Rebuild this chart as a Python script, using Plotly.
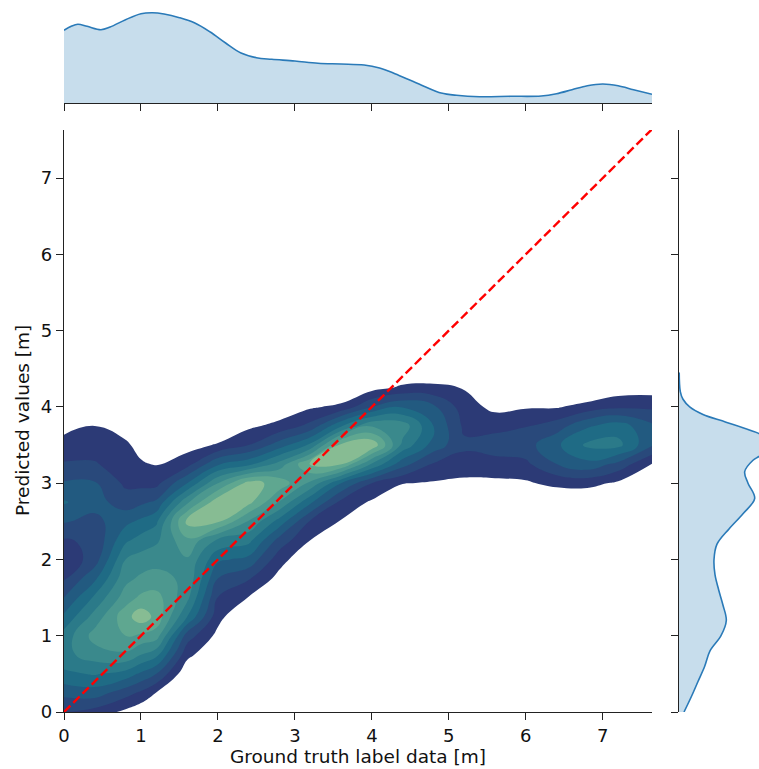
import plotly.graph_objects as go

W, H = 759, 769

# KDE levels, one list per x column (y goes up)
# values below 0 are outside the outer contour
grid_x = [0, 0.4, 0.8, 1.0, 1.2, 1.6, 2.0, 2.4, 2.8, 3.2, 3.6, 4.0, 4.4, 4.8, 5.2, 5.6, 6.0, 6.4, 6.8, 7.2, 7.64]
grid_y = [0, 0.25, 0.5, 0.75, 1, 1.25, 1.5, 1.75, 2, 2.25, 2.5, 2.75, 3, 3.25, 3.5, 3.75, 4, 4.25, 4.5]
z_columns = [
    [2.0, 3.3, 4.8, 5.7, 5.4, 4.2, 3.0, 1.9, 1.2, 1.9, 3.1, 4.1, 3.1, 2.1, 1.35, 0.7, 0.1, -0.5, -1],
    [1.6, 3.5, 5.1, 6.5, 7.4, 6.4, 5.2, 3.8, 2.5, 2.2, 2.7, 3.4, 3.1, 2.1, 1.5, 1.0, 0.35, -0.3, -1],
    [0.76, 2.4, 4.6, 6.8, 8.0, 8.6, 7.5, 6.7, 6.0, 4.8, 3.7, 2.5, 1.8, 1.4, 1.15, 0.6, 0.05, -0.5, -1],
    [0.3, 1.8, 3.8, 6.0, 7.8, 9.6, 8.2, 7.2, 6.4, 5.4, 4.2, 2.8, 1.7, 1.1, 0.7, 0.1, -0.5, -1, -1.5],
    [-0.5, 0.95, 3.0, 5.3, 7.5, 8.7, 8.4, 7.3, 6.7, 5.8, 4.8, 3.2, 1.7, 0.93, 0.3, -0.3, -0.9, -1.4, -2],
    [-2, -0.9, 0.2, 1.3, 2.5, 5.0, 6.3, 6.8, 6.9, 7.8, 9.3, 6.8, 4.0, 1.6, 0.6, -0.3, -1.2, -1.8, -2.5],
    [-2, -1.4, -0.7, 0, 0.7, 1.35, 1.97, 3.0, 4.2, 5.8, 9.2, 9.7, 7.0, 3.9, 1.1, 0.1, -0.9, -1.7, -2.5],
    [-2.5, -2.5, -2.5, -2, -1.3, -0.2, 0.95, 2.1, 3.7, 5.3, 6.9, 9.3, 9.4, 4.7, 2.0, 0.8, -0.2, -1.2, -2],
    [-2.5, -2.5, -2.5, -2.5, -1.8, -0.95, -0.15, 0.65, 1.4, 2.6, 4.6, 6.9, 8.6, 6.4, 3.5, 1.3, 0.3, -0.7, -1.7],
    [-2.5, -2.5, -2.5, -2.5, -2.5, -2.5, -1.8, -0.85, 0.1, 1.0, 1.9, 4.2, 6.8, 9.05, 5.2, 2.3, 0.85, -0.2, -1.2],
    [-2.5, -2.5, -2.5, -2.5, -2.5, -2.5, -2.5, -1.5, -0.7, 0.1, 0.93, 1.7, 4.0, 9.1, 9.3, 4.9, 1.25, -0.1, -1.3],
    [-2.5, -2.5, -2.5, -2.5, -2.5, -2.5, -2.5, -2.5, -2.5, -1.4, -0.25, 0.85, 2.0, 5.9, 9.8, 6.9, 3.0, 0.6, -0.8],
    [-2.5] * 10 + [-1.5, -0.2, 1.05, 3.4, 5.7, 6.6, 3.9, 1.2, 0],
    [-2.5] * 10 + [-1.1, -0.1, 0.9, 1.9, 3.6, 4.0, 3.2, 1.25, 0.1],
    [-2.5] * 10 + [-1.1, -0.2, 0.75, 1.6, 2.2, 1.8, 1.5, 0.95, -0.1],
    [-2.5] * 10 + [-1.1, -0.2, 0.75, 1.7, 2.4, 1.75, 0.7, -0.4, -1.5],
    [-2.5] * 10 + [-1, -0.1, 0.85, 1.8, 2.6, 1.95, 0.9, -0.2, -1.3],
    [-2.5] * 10 + [-1.4, -0.1, 1.3, 3.0, 3.8, 2.5, 0.9, -0.3, -1.3],
    [-2.5] * 10 + [-1.4, -0.05, 1.35, 3.7, 5.2, 3.85, 1.4, -0.2, -1.3],
    [-2.5] * 10 + [-1.6, -0.4, 0.8, 2.7, 5.3, 4.5, 1.8, 0.4, -0.9],
    [-2.5] * 10 + [-2.5, -2, -0.5, 0.95, 3.1, 3.2, 1.8, 0.5, -0.8],
]

# top marginal density (height above the baseline)
top_x = [0, 0.1, 0.18, 0.3, 0.48, 0.6, 0.8, 1.0, 1.15, 1.3, 1.5, 1.7, 1.9, 2.1, 2.3, 2.5, 2.7, 3.0, 3.3, 3.6, 3.9,
         4.1, 4.3, 4.5, 4.7, 4.9, 5.1, 5.4, 5.8, 6.2, 6.4, 6.6, 6.8, 7.0, 7.2, 7.4, 7.64]
top_d = [72.7, 77, 78.7, 76.7, 73.3, 76, 83.3, 89.3, 90.3, 89, 85.3, 80, 71, 60, 50, 45.3, 43.7, 42, 39.7, 39, 38,
         35, 29.3, 22.7, 16, 10, 7.7, 6.3, 6.7, 7, 9.3, 13.3, 17.3, 19, 17.3, 13.3, 8.7]

# right marginal density
right_y = [0, 0.2, 0.4, 0.6, 0.8, 1.0, 1.2, 1.4, 1.6, 1.8, 2.0, 2.2, 2.4, 2.6, 2.8, 3.0, 3.15, 3.3, 3.35, 3.45, 3.52,
           3.6, 3.65, 3.8, 3.9, 4.0, 4.1, 4.2, 4.45]
right_d = [5, 12.3, 19, 25.7, 31, 42, 47.3, 44, 39.7, 36, 35, 38, 50, 64, 75.7, 69, 65.7, 74, 80, 91, 94,
           88, 80, 47, 24, 10.7, 4, 1.3, 0.2]

ticks_x = [0, 1, 2, 3, 4, 5, 6, 7]
ticks_y = [0, 1, 2, 3, 4, 5, 6, 7]
diagonal = [0, 7.64]

band_colors = ["#ffffff", "#2c3a76", "#29497b", "#225a80", "#1f6b85", "#2b7a89",
               "#3a898c", "#4c988f", "#5fa790", "#87bc93"]

# stepped colour scale, one colour for each level band
scale = []
for i, c in enumerate(band_colors):
    scale.append([i / len(band_colors), c])
    scale.append([(i + 1) / len(band_colors), c])

fig = go.Figure()

fig.add_trace(go.Contour(
    x=grid_x,
    y=grid_y,
    z=[list(row) for row in zip(*z_columns)],
    colorscale=scale,
    zmin=0,
    zmax=10,
    showscale=False,
    autocontour=False,
    contours=dict(start=0, end=10, size=1, coloring="fill", showlines=False),
    line=dict(width=0, smoothing=1.3),
    hoverinfo="skip",
))

fig.add_trace(go.Scatter(x=diagonal, y=diagonal, mode="lines",
                         line=dict(color="#ff0000", width=2.4, dash="9px,4px")))

fig.add_trace(go.Scatter(x=top_x, y=top_d, xaxis="x2", yaxis="y2", mode="lines",
                         line=dict(color="#2a7ab8", width=1.6, shape="spline"),
                         fill="tozeroy", fillcolor="rgba(31,119,180,0.25)"))

fig.add_trace(go.Scatter(x=right_d, y=right_y, xaxis="x3", yaxis="y3", mode="lines",
                         line=dict(color="#2a7ab8", width=1.6, shape="spline"),
                         fill="tozerox", fillcolor="rgba(31,119,180,0.25)"))

axis_style = dict(showgrid=False, zeroline=False, showline=True, linecolor="#222222", linewidth=1.3,
                  ticks="outside", ticklen=7, tickwidth=1.3, tickcolor="#222222", automargin=False)

fig.update_layout(
    width=W,
    height=H,
    margin=dict(l=0, r=0, t=0, b=0),
    paper_bgcolor="white",
    plot_bgcolor="white",
    showlegend=False,
    font=dict(family="DejaVu Sans", size=18, color="#111111"),
    xaxis=dict(domain=[64 / W, 652 / W], range=[0, 7.64], tickvals=ticks_x, anchor="y", **axis_style),
    yaxis=dict(domain=[(H - 712) / H, (H - 130) / H], range=[0, 7.63], tickvals=ticks_y, anchor="x", **axis_style),
    xaxis2=dict(domain=[64 / W, 652 / W], range=[0, 7.64], tickvals=ticks_x, showticklabels=False,
                anchor="y2", **axis_style),
    yaxis2=dict(domain=[(H - 103) / H, (H - 8) / H], range=[0, 95], visible=False, anchor="x2"),
    xaxis3=dict(domain=[679 / W, 1], range=[0, 80], visible=False, anchor="y3"),
    yaxis3=dict(domain=[(H - 712) / H, (H - 130) / H], range=[0, 7.63], tickvals=ticks_y, showticklabels=False,
                anchor="x3", **axis_style),
    annotations=[
        dict(text="Ground truth label data [m]", xref="paper", yref="paper", x=358 / W, y=(H - 756) / H,
             xanchor="center", yanchor="middle", showarrow=False, borderpad=0, font=dict(size=18.5)),
        dict(text="Predicted values [m]", xref="paper", yref="paper", x=22 / W, y=(H - 421) / H,
             xanchor="center", yanchor="middle", textangle=-90, showarrow=False, font=dict(size=18.5)),
    ],
)

fig.write_html("out.html", config=dict(displayModeBar=False), post_script="document.body.style.margin='0';")
